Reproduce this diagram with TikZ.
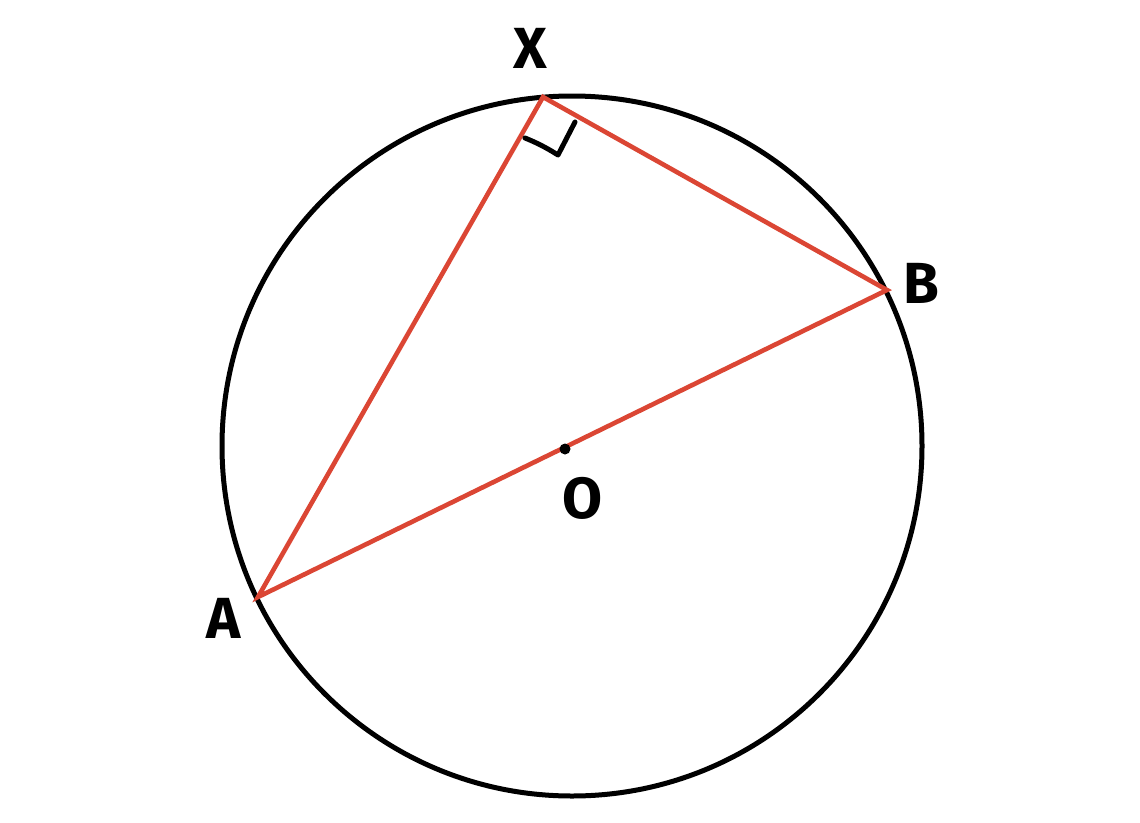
\documentclass[tikz,border=0pt]{standalone}
\usepackage{fontspec}
\setmainfont{Fira Sans}
\definecolor{redline}{RGB}{219,70,52}
\begin{document}
\begin{tikzpicture}[x=1pt,y=-1pt,
  lbl/.style={font=\fontsize{58}{58}\selectfont\bfseries, inner sep=0pt},
  blk/.style={line width=5pt, black},
  chord/.style={line width=4.6pt, redline, line join=miter}]
\useasboundingbox (0,0) rectangle (1140,822);
\coordinate (C) at (572,446);
\coordinate (X) at (543,97);
\coordinate (B) at (887,290);
\coordinate (A) at (258,597);
\coordinate (O) at (565,449);
\draw[blk] (C) circle (350);
\draw[chord] (A) -- (X) -- (B) -- cycle;
\fill (O) circle (5.5);
\coordinate (r1) at (525,138);
\coordinate (r2) at (558,155);
\coordinate (r3) at (575,122);
\draw[line width=5pt, line cap=round, line join=round] (r1) .. controls (540,144) and (550,150) .. (r2) -- (r3);
\node[lbl] (lx) at (530,48) {X};
\node[lbl] (lb) at (921,283) {B};
\node[lbl] (la) at (224,618) {A};
\node[lbl] (lo) at (583,498) {O};
\end{tikzpicture}
\end{document}
